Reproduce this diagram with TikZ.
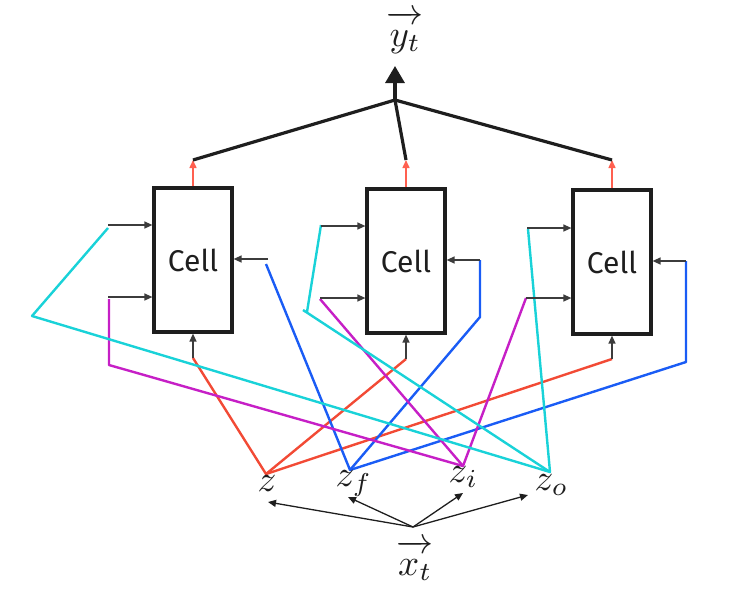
\documentclass[tikz,border=0pt]{standalone}
\usepackage{fontspec}
\newfontfamily\cellfont{Fira Sans}
\usetikzlibrary{arrows.meta}
\definecolor{cred}{RGB}{242,74,53}
\definecolor{cblue}{RGB}{26,92,245}
\definecolor{cmag}{RGB}{198,31,198}
\definecolor{ccyan}{RGB}{25,210,216}
\definecolor{csalmon}{RGB}{255,96,80}
\definecolor{cdark}{RGB}{30,30,30}
\definecolor{cgrey}{RGB}{60,60,60}
\tikzset{
  cellbox/.style={draw=cdark,line width=3.2pt,minimum width=78pt,minimum height=144pt,inner sep=0pt,
    font=\cellfont\fontsize{30}{36}\selectfont,text=cdark},
  smallarr/.style={draw=cgrey,line width=1.4pt,-{Triangle[width=7pt,length=8pt]}},
  outarr/.style={draw=csalmon,line width=1.5pt,-{Triangle[width=7pt,length=8pt]}},
  topline/.style={draw=cdark,line width=3.2pt},
  bigarr/.style={draw=cdark,line width=3.2pt,-{Triangle[width=19pt,length=17pt]}},
  xarr/.style={draw=cdark,line width=1.3pt,-{Triangle[width=7pt,length=8pt]}},
  zline/.style={line width=2.4pt,line join=round},
  lab/.style={scale=3.7,inner sep=0pt,anchor=base west,text=cdark}
}
\begin{document}
\begin{tikzpicture}[x=1pt,y=-1pt]
\useasboundingbox (0,0) rectangle (756,598);
% cells
\node[cellbox] (c1) at (193,260) {Cell};
\node[cellbox] (c2) at (406,261) {Cell};
\node[cellbox] (c3) at (612,262) {Cell};
% free ends
\coordinate (a1) at (108,225); \coordinate (b1) at (108,297); \coordinate (r1) at (268,259); \coordinate (d1) at (193,358); \coordinate (t1) at (193,160);
\coordinate (a2) at (321,226); \coordinate (b2) at (320,298); \coordinate (r2) at (480,260); \coordinate (d2) at (406,359); \coordinate (t2) at (406,160);
\coordinate (a3) at (527,228); \coordinate (b3) at (526,298); \coordinate (r3) at (686,261); \coordinate (d3) at (612,359); \coordinate (t3) at (612,160);
\coordinate (J) at (395,100);
\coordinate (Y) at (395,66);
\coordinate (Z) at (266,474);
\coordinate (ZF) at (350,470);
\coordinate (ZI) at (463,466);
\coordinate (ZO) at (550,472);
\coordinate (X) at (413,527);
\coordinate (xz) at (268,502);
\coordinate (xzf) at (348,497);
\coordinate (xzi) at (463,493);
\coordinate (xzo) at (528,495);
% colored lines
\draw[zline,cred] (d1) -- (Z) -- (d2);
\draw[zline,cred] (Z) -- (d3);
\draw[zline,cblue] (266,264) -- (ZF) -- (480,317) -- (r2);
\draw[zline,cblue] (ZF) -- (686,362) -- (r3);
\draw[zline,cmag] (109,299) -- (109,365) -- (ZI);
\draw[zline,cmag] (320,299) -- (ZI) -- (526,298);
\draw[zline,ccyan] (108,228) -- (32,316) -- (ZO);
\draw[zline,ccyan] (321,225) -- (307,312);
\draw[zline,ccyan] (303,310) -- (ZO) -- (528,229);
% cell inputs
\foreach \i in {1,2,3}{
  \draw[smallarr] (a\i) -- (a\i -| c\i.west);
  \draw[smallarr] (b\i) -- (b\i -| c\i.west);
  \draw[smallarr] (r\i) -- (r\i -| c\i.east);
  \draw[smallarr] (d\i) -- (c\i.south);
  \draw[outarr] (c\i.north) -- (t\i);
  \draw[topline] (t\i) -- (J);
}
\draw[bigarr] (J) -- (Y);
% x arrows
\draw[xarr] (X) -- (xz);
\draw[xarr] (X) -- (xzf);
\draw[xarr] (X) -- (xzi);
\draw[xarr] (X) -- (xzo);
% labels
\node[lab] (ly) at (386,46) {$\overrightarrow{\vphantom{l}y_t}$};
\node[lab] (lz) at (257,491) {$z$};
\node[lab] (lzf) at (335,486) {$z_f$};
\node[lab] (lzi) at (448,482) {$z_i$};
\node[lab] (lzo) at (534,490) {$z_o$};
\node[lab] (lx) at (396,575) {$\overrightarrow{\vphantom{l}x_t}$};
\end{tikzpicture}
\end{document}
